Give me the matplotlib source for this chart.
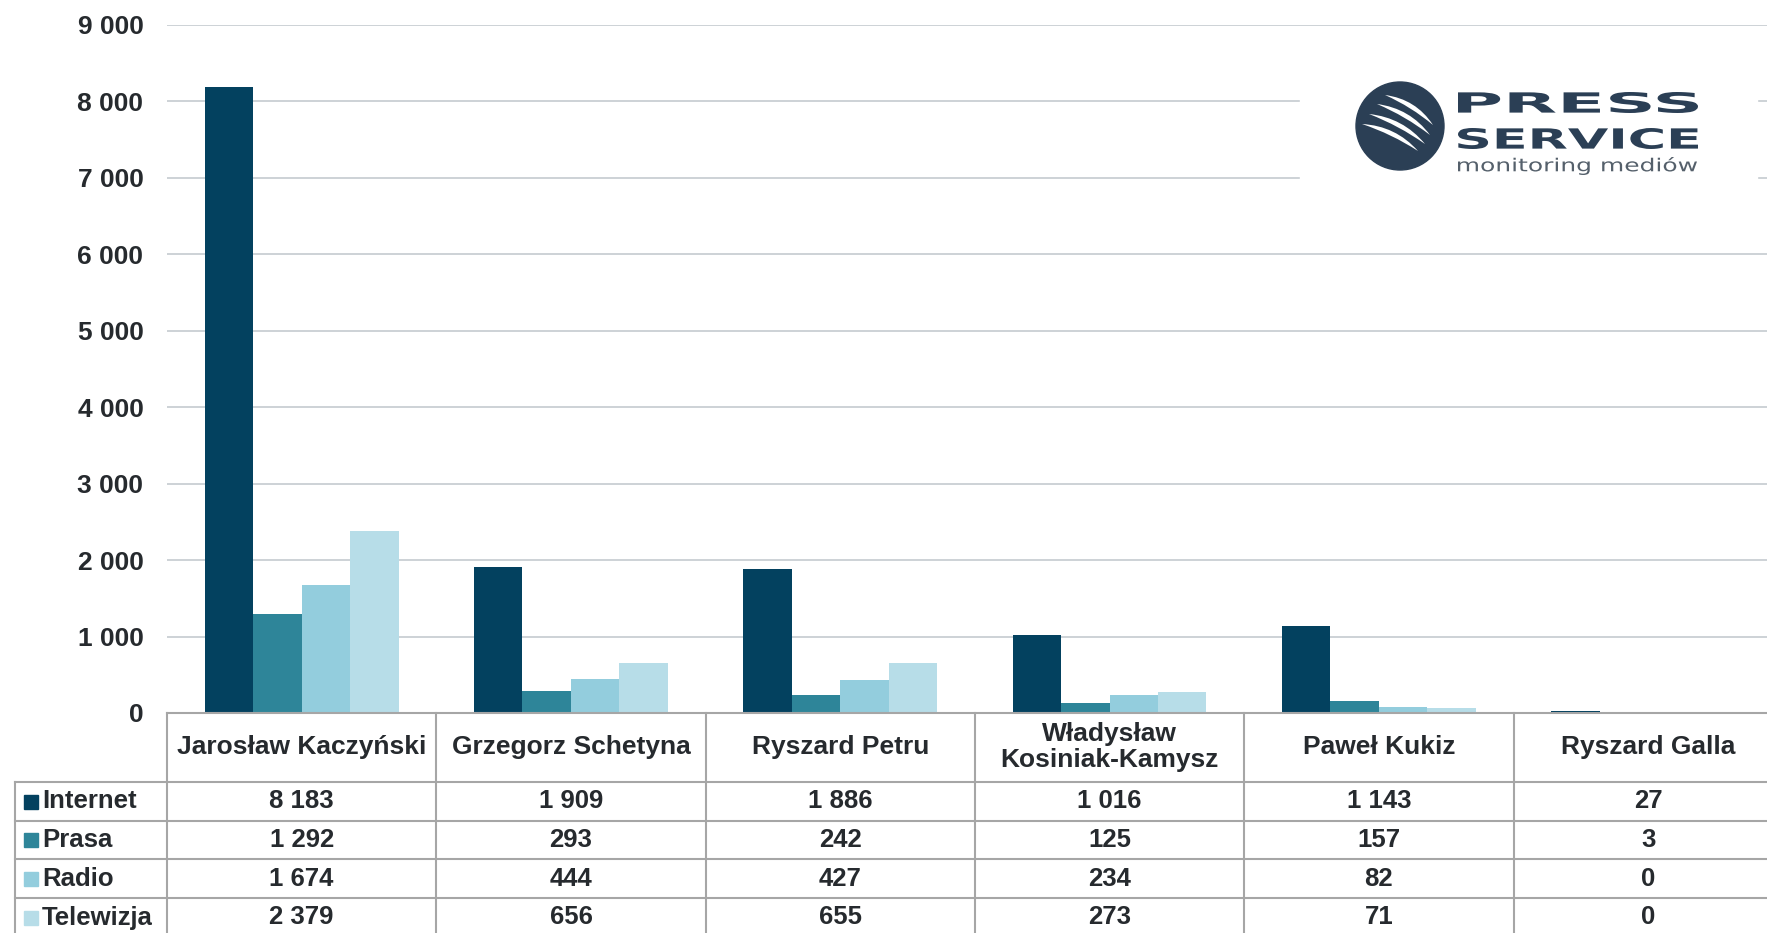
import numpy as np
import matplotlib.pyplot as plt
from matplotlib.transforms import blended_transform_factory, Affine2D
from matplotlib.textpath import TextPath
from matplotlib.patches import PathPatch, Circle, Rectangle
from matplotlib.path import Path
from matplotlib.font_manager import FontProperties

plt.switch_backend('agg')
plt.rcParams['font.family'] = ['Liberation Sans', 'DejaVu Sans']

candidates = ["Jarosław Kaczyński", "Grzegorz Schetyna", "Ryszard Petru",
              "Władysław\nKosiniak-Kamysz", "Paweł Kukiz", "Ryszard Galla"]
media = ["Internet", "Prasa", "Radio", "Telewizja"]
internet = [8183, 1909, 1886, 1016, 1143, 27]
prasa = [1292, 293, 242, 125, 157, 3]
radio = [1674, 444, 427, 234, 82, 0]
telewizja = [2379, 656, 655, 273, 71, 0]
series = [internet, prasa, radio, telewizja]
colors = ['#03415f', '#2e8599', '#93cddd', '#b7dde8']
yticks = list(range(0, 9001, 1000))

TXT = '#262a2e'
LINE = '#a6a6a6'
LOGO = '#2b3f55'
W, H = 1767, 933


def fmt(v):
    return f"{v:,}".replace(",", " ")


fig = plt.figure(figsize=(W / 100, H / 100), dpi=100)
# plot area in pixels: left 167, zero line at 713, top (9000) at 25
x0, y0, ytop, colw = 167, 713, 25, 269.3
ax = fig.add_axes([x0 / W, 1 - y0 / H, 6 * colw / W, (y0 - ytop) / H])
ov = fig.add_axes([0, 0, 1, 1], zorder=5)
ov.set_xlim(0, W)
ov.set_ylim(H, 0)
ov.axis('off')

x = np.arange(len(candidates))
bw = 0.18
for k, (vals, c) in enumerate(zip(series, colors)):
    ax.bar(x + (k - 1.5) * bw, vals, bw, color=c, zorder=3)

ax.set_xlim(-0.5, len(candidates) - 0.5)
ax.set_ylim(0, 9000)
ax.set_yticks(yticks)
ax.set_yticklabels([fmt(t) for t in yticks], fontsize=19, fontweight='bold', color=TXT)
ax.set_xticks([])
ax.tick_params(axis='y', length=0, pad=17)
ax.grid(axis='y', color='#c9cfd3', lw=1.3, zorder=0)
ax.set_axisbelow(True)
for s in ax.spines.values():
    s.set_visible(False)

# data table under the chart
tr = blended_transform_factory(ax.transData, ov.transData)
rows_y = [782, 821, 859, 898, 937]
xr = len(candidates) - 0.5
ax.plot([-0.5, xr], [y0, y0], transform=tr, color=LINE, lw=1.5, clip_on=False, zorder=6)
for y in rows_y:
    ov.plot([15, W], [y, y], color=LINE, lw=1.5)
ov.plot([15, 15], [rows_y[0], H], color=LINE, lw=1.5)
for i in range(len(candidates) + 1):
    ax.plot([i - 0.5, i - 0.5], [y0, H], transform=tr, color=LINE, lw=1.5,
            clip_on=False, zorder=6)

for i, name in enumerate(candidates):
    ax.text(i, 747, name, transform=tr, ha='center', va='center', fontsize=19,
            fontweight='bold', color=TXT, linespacing=1.1)
    for r, vals in enumerate(series):
        yc = (rows_y[r] + rows_y[r + 1]) / 2
        ax.text(i, yc, fmt(vals[i]), transform=tr, ha='center', va='center',
                fontsize=18.5, fontweight='bold', color=TXT)

for r, (m, c) in enumerate(zip(media, colors)):
    yc = (rows_y[r] + rows_y[r + 1]) / 2
    ov.add_patch(Rectangle((24, yc - 7), 14, 14, color=c))
    ov.text(42, yc, m, ha='left', va='center', fontsize=18.5,
            fontweight='bold', color=TXT)

# logo (white box hides the gridlines behind it)
ov.add_patch(Rectangle((1300, 62), 457, 130, color='white', zorder=1))
ov.add_patch(Circle((1400, 126), 44, color=LOGO, zorder=2))

# tapered white stripes in the circle
stripes = [((1385, 95), (1433, 125)), ((1377, 104), (1430, 135)),
           ((1369, 114), (1425, 144)), ((1362, 124), (1418, 151))]
for p0, p2 in stripes:
    p0, p2 = np.array(p0, float), np.array(p2, float)
    d = p2 - p0
    n = np.array([d[1], -d[0]]) / np.hypot(*d)
    mid = (p0 + p2) / 2
    c_out, c_in = mid + 13 * n, mid + 4 * n
    verts = [p0, c_out, p2, c_in, p0, p0]
    codes = [Path.MOVETO, Path.CURVE3, Path.CURVE3, Path.CURVE3, Path.CURVE3,
             Path.CLOSEPOLY]
    ov.add_patch(PathPatch(Path(verts, codes), fc='white', ec='none', zorder=3))


def fit_text(s, box, weight, color):
    tp = TextPath((0, 0), s, size=100,
                  prop=FontProperties(family='DejaVu Sans', weight=weight))
    ext = tp.get_extents()
    bx0, bx1, by0, by1 = box
    t = (Affine2D().translate(-ext.x0, -ext.y1)
         .scale((bx1 - bx0) / ext.width, -(by1 - by0) / ext.height)
         .translate(bx0, by0))
    ov.add_patch(PathPatch(t.transform_path(tp), fc=color, ec='none', zorder=3))


fit_text("PRESS", (1458, 1698, 92, 113), 'bold', LOGO)
fit_text("SERVICE", (1458, 1698, 128, 149), 'bold', LOGO)
fit_text("monitoring mediów", (1458, 1697, 157, 175), 'normal', '#55606b')

fig.savefig('out.png', dpi=100)
